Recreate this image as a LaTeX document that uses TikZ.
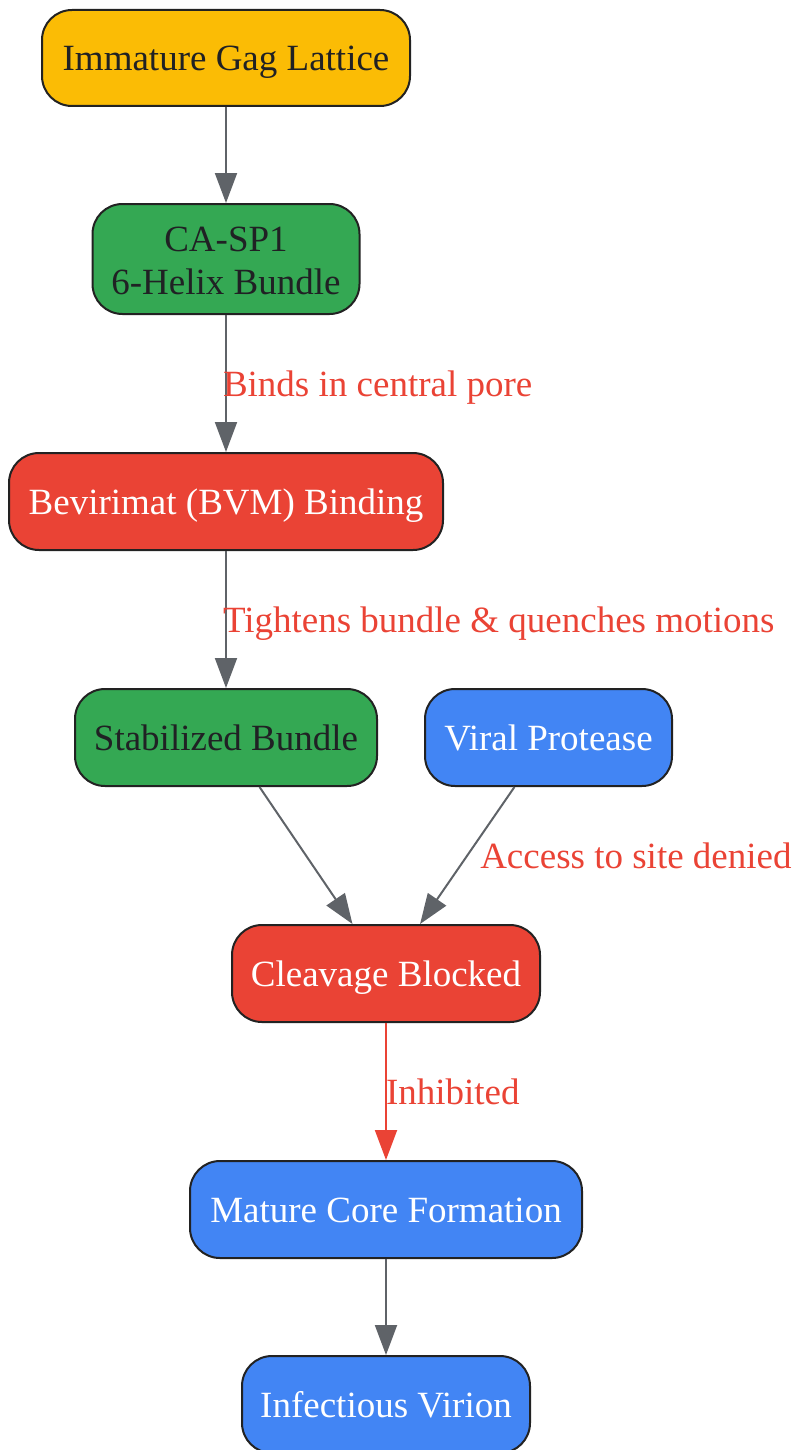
\documentclass[tikz,border=0pt]{standalone}
\usepackage{fontspec}
\setmainfont{Liberation Serif}
\usetikzlibrary{arrows.meta}

\definecolor{gagyellow}{HTML}{FBBC05}
\definecolor{helixgreen}{HTML}{34A853}
\definecolor{drugred}{HTML}{EA4335}
\definecolor{virusblue}{HTML}{4285F4}
\definecolor{darktext}{HTML}{202124}
\definecolor{edgegray}{HTML}{5F6368}
\definecolor{boxline}{HTML}{222222}

\tikzset{
  box/.style={draw=boxline, line width=1pt, rounded corners=15pt, inner sep=0pt,
    align=center, minimum height=48.5pt, text height=16.5pt, text depth=4pt,
    font=\fontsize{18.5}{21.5}\selectfont},
  yellowbox/.style={box, fill=gagyellow, text=darktext},
  greenbox/.style={box, fill=helixgreen, text=darktext},
  redbox/.style={box, fill=drugred, text=white},
  bluebox/.style={box, fill=virusblue, text=white},
  edge/.style={draw=edgegray, line width=1pt, -{Triangle[length=15pt,width=11pt]}},
  elabel/.style={text=drugred, inner sep=0pt, anchor=west, text height=16.5pt, text depth=4pt,
    font=\fontsize{18.5}{21.5}\selectfont},
}

\begin{document}
\begin{tikzpicture}[x=0.5pt,y=-0.5pt]
    \useasboundingbox (0,0) rectangle (795,1450);

    % nodes
    \node[yellowbox, minimum width=184pt, minimum height=48pt] (gag) at (226,58) {Immature Gag Lattice};
    \node[greenbox, minimum width=133.5pt, minimum height=55pt, text height=39pt, text depth=4pt] (casp) at (226,259) {CA-SP1\\6-Helix Bundle};
    \node[redbox, minimum width=217pt] (bvm) at (226,501.5) {Bevirimat (BVM) Binding};
    \node[greenbox, minimum width=151pt] (stab) at (226,737.5) {Stabilized Bundle};
    \node[bluebox, minimum width=123.5pt] (prot) at (548.5,737.5) {Viral Protease};
    \node[redbox, minimum width=154pt] (cleave) at (386,973.5) {Cleavage Blocked};
    \node[bluebox, minimum width=196pt] (core) at (386,1209.5) {Mature Core Formation};
    \node[bluebox, minimum width=144pt] (virion) at (386,1404.5) {Infectious Virion};

    % edges
    \draw[edge] (gag) -- (casp);
    \draw[edge] (casp) -- node[elabel, xshift=-2pt] {Binds in central pore} (bvm);
    \draw[edge] (bvm) -- node[elabel, xshift=-2pt] {Tightens bundle \& quenches motions} (stab);
    \draw[edge] (stab) -- (cleave);
    \draw[edge] (prot) -- node[elabel, xshift=6pt] {Access to site denied} (cleave);
    \draw[edge, draw=drugred] (cleave) -- node[elabel, xshift=-0.5pt] {Inhibited} (core);
    \draw[edge] (core) -- (virion);
\end{tikzpicture}
\end{document}
